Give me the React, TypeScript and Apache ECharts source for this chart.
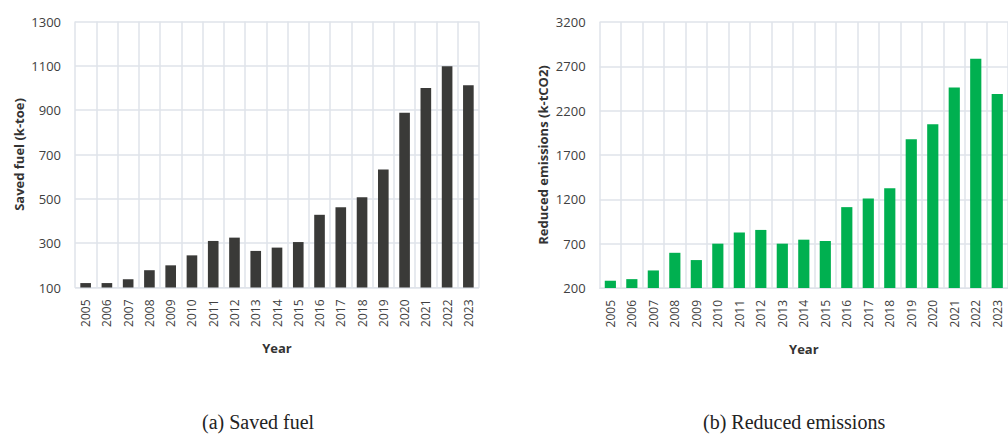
import React, { useEffect, useRef } from "react";
import * as echarts from "echarts";

const years = [
  "2005", "2006", "2007", "2008", "2009", "2010", "2011", "2012", "2013", "2014",
  "2015", "2016", "2017", "2018", "2019", "2020", "2021", "2022", "2023",
];

// Saved fuel, k-toe
const savedFuel = [
  120, 120, 137, 178, 200, 245, 310, 325, 265, 280,
  305, 428, 462, 507, 632, 888, 1000, 1098, 1012,
];

// Reduced emissions, k-tCO2
const reducedEmissions = [
  282, 300, 398, 597, 515, 700, 826, 855, 700, 745,
  730, 1112, 1210, 1325, 1878, 2047, 2460, 2785, 2388,
];

const fuelTicks = [100, 300, 500, 700, 900, 1100, 1300];
const emissionTicks = [200, 700, 1200, 1700, 2200, 2700, 3200];

const GRID_COLOR = "#dfe3ea";
const TEXT_COLOR = "#404040";
const FONT = "'Open Sans', 'DejaVu Sans', sans-serif";

function categoryAxis(gridIndex: number) {
  return {
    type: "category" as const,
    gridIndex,
    data: years,
    boundaryGap: true,
    name: "Year",
    nameLocation: "middle" as const,
    nameGap: 54,
    nameTextStyle: { fontFamily: FONT, fontSize: 13, fontWeight: "bold" as const, color: "#333" },
    axisLine: { show: true, lineStyle: { color: GRID_COLOR, width: 1 } },
    axisTick: { show: false },
    axisLabel: {
      rotate: 90,
      margin: 12,
      interval: 0,
      fontFamily: FONT,
      fontSize: 12,
      color: TEXT_COLOR,
    },
    splitLine: { show: true, lineStyle: { color: GRID_COLOR, width: 1.5 } },
  };
}

function valueAxis(gridIndex: number, name: string, min: number, max: number, ticks: number[]) {
  return {
    type: "value" as const,
    gridIndex,
    min,
    max,
    name,
    nameLocation: "middle" as const,
    nameGap: 50,
    nameTextStyle: { fontFamily: FONT, fontSize: 13, fontWeight: "bold" as const, color: "#333" },
    axisLine: { show: false },
    axisTick: { show: false, customValues: ticks },
    axisLabel: {
      customValues: ticks,
      formatter: (v: number) => String(v),
      margin: 14,
      fontFamily: FONT,
      fontSize: 13,
      color: TEXT_COLOR,
    },
    splitLine: { show: true, lineStyle: { color: GRID_COLOR, width: 1.5 } },
  };
}

export default function App() {
  const ref = useRef<HTMLDivElement>(null);

  useEffect(() => {
    if (!ref.current) return;
    const chart = echarts.init(ref.current, undefined, { renderer: "svg" });
    chart.setOption({
      animation: false,
      backgroundColor: "#ffffff",
      grid: [
        { left: 75, top: 21.5, width: 404, height: 266 },
        { left: 599.6, top: 22, width: 412.4, height: 266 },
      ],
      xAxis: [categoryAxis(0), categoryAxis(1)],
      yAxis: [
        valueAxis(0, "Saved fuel (k-toe)", 100, 1300, fuelTicks),
        valueAxis(1, "Reduced emissions (k-tCO2)", 200, 3200, emissionTicks),
      ],
      series: [
        {
          type: "bar",
          xAxisIndex: 0,
          yAxisIndex: 0,
          data: savedFuel,
          barWidth: "50%",
          itemStyle: { color: "#3a3a38" },
        },
        {
          type: "bar",
          xAxisIndex: 1,
          yAxisIndex: 1,
          data: reducedEmissions,
          barWidth: "52%",
          itemStyle: { color: "#00b050" },
        },
      ],
      graphic: [
        {
          type: "text",
          left: 258 - 56,
          top: 412,
          style: {
            text: "(a) Saved fuel",
            font: "20px 'Liberation Serif', 'Times New Roman', serif",
            fill: "#222",
          },
        },
        {
          type: "text",
          left: 795 - 92,
          top: 412,
          style: {
            text: "(b) Reduced emissions",
            font: "20px 'Liberation Serif', 'Times New Roman', serif",
            fill: "#222",
          },
        },
      ],
    });
    return () => chart.dispose();
  }, []);

  return (
    <div
      ref={ref}
      style={{ position: "fixed", left: 0, top: 0, width: 1008, height: 435, background: "#fff" }}
    />
  );
}
